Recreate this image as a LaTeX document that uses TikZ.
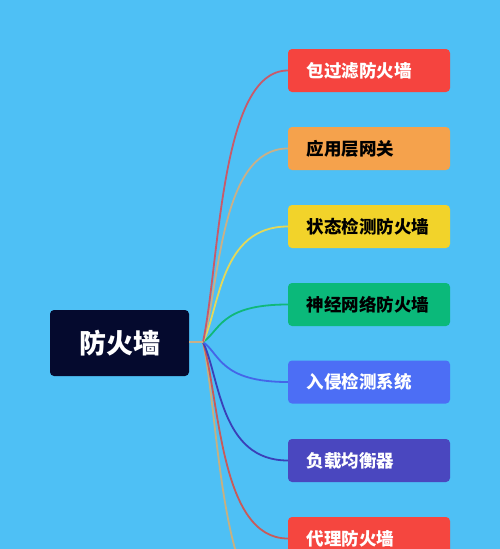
\documentclass[tikz,border=0pt]{standalone}
\usepackage{fontspec}
\setmainfont{Noto Sans CJK SC}
\begin{document}
\definecolor{bg}{HTML}{4EC0F5}
\definecolor{rootc}{HTML}{050A2E}
\definecolor{c1}{HTML}{F5443F}
\definecolor{c2}{HTML}{F5A24C}
\definecolor{c3}{HTML}{F2D32A}
\definecolor{c4}{HTML}{0BB97A}
\definecolor{c5}{HTML}{4C6EF5}
\definecolor{c6}{HTML}{4A47BF}
\definecolor{c7}{HTML}{F5463F}
\definecolor{l1}{HTML}{C85A6A}
\definecolor{l2}{HTML}{C9B088}
\definecolor{l3}{HTML}{E3D85A}
\definecolor{l4}{HTML}{10B87A}
\definecolor{l5}{HTML}{4466E8}
\definecolor{l6}{HTML}{3A40B8}
\definecolor{l7}{HTML}{C85A5A}
\definecolor{l8}{HTML}{C8B080}
\begin{tikzpicture}[x=1pt,y=-1pt,
  rootbox/.style={fill=rootc, rounded corners=4pt, minimum width=139pt, minimum height=66pt, inner sep=0pt, text=white, font=\bfseries\fontsize{27}{27}\selectfont},
  leaf/.style={rounded corners=4pt, minimum width=162pt, minimum height=43pt, inner sep=0pt},
  leaftext/.style={anchor=west, inner sep=0pt, font=\bfseries\fontsize{17.5}{17.5}\selectfont},
  conn/.style={line width=1.8pt}]
\fill[bg] (0,0) rectangle (500,549);
\useasboundingbox (0,0) rectangle (500,549);
\node[rootbox] (root) at (119.5,343) {防火墙};
\coordinate (j) at (203,342);
\foreach \i/\y/\fc/\tc/\t in {1/70.5/c1/white/包过滤防火墙, 2/148.5/c2/black/应用层网关, 3/226.5/c3/black/状态检测防火墙, 4/304.5/c4/black/神经网络防火墙, 5/382/c5/white/入侵检测系统, 6/460.5/c6/white/负载均衡器, 7/538.5/c7/white/代理防火墙}{
  \node[leaf, fill=\fc] (b\i) at (369,\y) {};
  \node[leaftext, text=\tc] (t\i) at (306.5,\y) {\t};
}
\coordinate (b8) at (288,616.5);
\foreach \i/\lc/\y in {8/l8/616.5,7/l7/538.5,6/l6/460.5,5/l5/382,4/l4/304.5,3/l3/226.5,2/l2/148.5,1/l1/70.5}{
  \pgfmathsetmacro{\cy}{342+0.3*(\y-342)}
  \draw[conn, \lc] (j) .. controls (220,\cy) and (220,\y) .. (b\i.west);
}
\draw[conn, l2] (root.east |- j) -- (j);
\end{tikzpicture}
\end{document}
